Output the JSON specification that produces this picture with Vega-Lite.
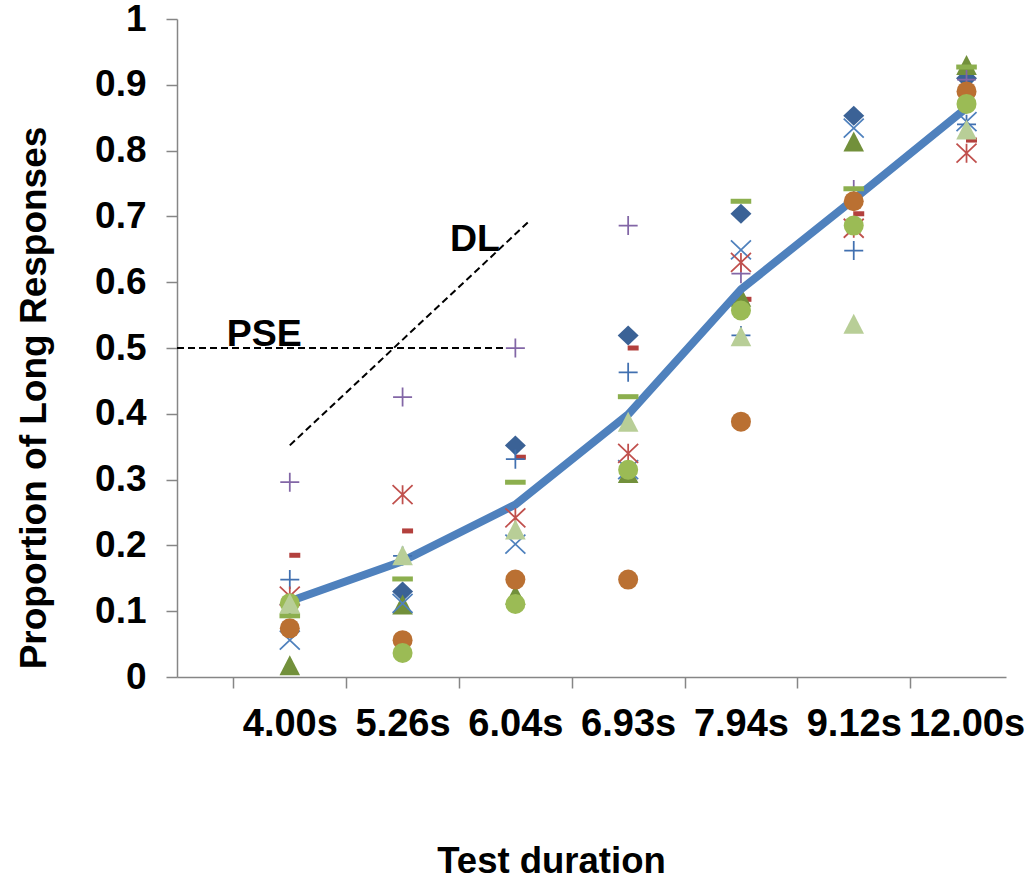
{
  "$schema": "https://vega.github.io/schema/vega-lite/v6.json",
  "width": 829,
  "height": 658,
  "autosize": {"type": "none"},
  "padding": {"left": 177, "top": 19, "right": 22, "bottom": 202},
  "background": "white",
  "config": {"view": {"stroke": null}, "font": "Liberation Sans"},
  "datasets": {
    "obs": [
      {"t":"4.00s","i":1,"s":"S1","p":0.11},{"t":"5.26s","i":2,"s":"S1","p":0.13},{"t":"6.04s","i":3,"s":"S1","p":0.352},{"t":"6.93s","i":4,"s":"S1","p":0.519},{"t":"7.94s","i":5,"s":"S1","p":0.704},{"t":"9.12s","i":6,"s":"S1","p":0.853},{"t":"12.00s","i":7,"s":"S1","p":0.91},
      {"t":"4.00s","i":1,"s":"S2","p":0.185},{"t":"5.26s","i":2,"s":"S2","p":0.222},{"t":"6.04s","i":3,"s":"S2","p":0.334},{"t":"6.93s","i":4,"s":"S2","p":0.5},{"t":"7.94s","i":5,"s":"S2","p":0.574},{"t":"9.12s","i":6,"s":"S2","p":0.704},{"t":"12.00s","i":7,"s":"S2","p":0.816},
      {"t":"4.00s","i":1,"s":"S3","p":0.018},{"t":"5.26s","i":2,"s":"S3","p":0.11},{"t":"6.04s","i":3,"s":"S3","p":0.125},{"t":"6.93s","i":4,"s":"S3","p":0.31},{"t":"7.94s","i":5,"s":"S3","p":0.578},{"t":"9.12s","i":6,"s":"S3","p":0.814},{"t":"12.00s","i":7,"s":"S3","p":0.93},
      {"t":"4.00s","i":1,"s":"S4","p":0.056},{"t":"5.26s","i":2,"s":"S4","p":0.112},{"t":"6.04s","i":3,"s":"S4","p":0.202},{"t":"6.93s","i":4,"s":"S4","p":0.315},{"t":"7.94s","i":5,"s":"S4","p":0.649},{"t":"9.12s","i":6,"s":"S4","p":0.834},{"t":"12.00s","i":7,"s":"S4","p":0.844},
      {"t":"4.00s","i":1,"s":"S5","p":0.296},{"t":"5.26s","i":2,"s":"S5","p":0.4255},{"t":"6.04s","i":3,"s":"S5","p":0.5},{"t":"6.93s","i":4,"s":"S5","p":0.686},{"t":"7.94s","i":5,"s":"S5","p":0.613},{"t":"9.12s","i":6,"s":"S5","p":0.741},{"t":"12.00s","i":7,"s":"S5","p":0.908},
      {"t":"4.00s","i":1,"s":"S6","p":0.074},{"t":"5.26s","i":2,"s":"S6","p":0.056},{"t":"6.04s","i":3,"s":"S6","p":0.148},{"t":"6.93s","i":4,"s":"S6","p":0.148},{"t":"7.94s","i":5,"s":"S6","p":0.388},{"t":"9.12s","i":6,"s":"S6","p":0.723},{"t":"12.00s","i":7,"s":"S6","p":0.89},
      {"t":"4.00s","i":1,"s":"S7","p":0.148},{"t":"5.26s","i":2,"s":"S7","p":0.184},{"t":"6.04s","i":3,"s":"S7","p":0.331},{"t":"6.93s","i":4,"s":"S7","p":0.463},{"t":"7.94s","i":5,"s":"S7","p":0.519},{"t":"9.12s","i":6,"s":"S7","p":0.648},{"t":"12.00s","i":7,"s":"S7","p":0.84},
      {"t":"4.00s","i":1,"s":"S8","p":0.093},{"t":"5.26s","i":2,"s":"S8","p":0.149},{"t":"6.04s","i":3,"s":"S8","p":0.296},{"t":"6.93s","i":4,"s":"S8","p":0.426},{"t":"7.94s","i":5,"s":"S8","p":0.723},{"t":"9.12s","i":6,"s":"S8","p":0.742},{"t":"12.00s","i":7,"s":"S8","p":0.927},
      {"t":"4.00s","i":1,"s":"S9","p":0.123},{"t":"5.26s","i":2,"s":"S9","p":0.277},{"t":"6.04s","i":3,"s":"S9","p":0.242},{"t":"6.93s","i":4,"s":"S9","p":0.34},{"t":"7.94s","i":5,"s":"S9","p":0.63},{"t":"9.12s","i":6,"s":"S9","p":0.682},{"t":"12.00s","i":7,"s":"S9","p":0.796},
      {"t":"4.00s","i":1,"s":"S10","p":0.112},{"t":"5.26s","i":2,"s":"S10","p":0.0365},{"t":"6.04s","i":3,"s":"S10","p":0.111},{"t":"6.93s","i":4,"s":"S10","p":0.315},{"t":"7.94s","i":5,"s":"S10","p":0.557},{"t":"9.12s","i":6,"s":"S10","p":0.686},{"t":"12.00s","i":7,"s":"S10","p":0.871},
      {"t":"4.00s","i":1,"s":"S11","p":0.112},{"t":"5.26s","i":2,"s":"S11","p":0.185},{"t":"6.04s","i":3,"s":"S11","p":0.224},{"t":"6.93s","i":4,"s":"S11","p":0.388},{"t":"7.94s","i":5,"s":"S11","p":0.518},{"t":"9.12s","i":6,"s":"S11","p":0.537},{"t":"12.00s","i":7,"s":"S11","p":0.832}
    ],
    "mean": [
      {"t":"4.00s","i":1,"p":0.115},{"t":"5.26s","i":2,"p":0.176},{"t":"6.04s","i":3,"p":0.262},{"t":"6.93s","i":4,"p":0.399},{"t":"7.94s","i":5,"p":0.589},{"t":"9.12s","i":6,"p":0.726},{"t":"12.00s","i":7,"p":0.865}
    ],
    "guides": [
      {"name":"PSE","i":0,"i2":2.926,"p":0.5,"p2":0.5},
      {"name":"DL","i":1,"i2":3.118,"p":0.352,"p2":0.692}
    ],
    "notes": [
      {"label":"PSE","i":0.44,"p":0.5024},
      {"label":"DL","i":2.42,"p":0.6468}
    ]
  },
  "encoding": {
    "x": {
      "field": "i", "type": "quantitative",
      "scale": {"domain": [0, 7.35], "nice": false, "zero": false},
      "axis": {
        "values": [1, 2, 3, 4, 5, 6, 7],
        "labelExpr": "['','4.00s','5.26s','6.04s','6.93s','7.94s','9.12s','12.00s'][datum.value]",
        "tickOffset": -56.4, "labelOffset": 56.4,
        "tickSize": 11, "tickWidth": 1.5, "tickColor": "#868686",
        "domainColor": "#868686", "domainWidth": 1.5, "grid": false,
        "labelFont": "Liberation Sans", "labelFontSize": 38, "labelFontWeight": "bold", "labelColor": "#000000",
        "labelBaseline": "alphabetic", "labelPadding": 47, "labelFlush": false, "labelOverlap": false,
        "title": "Test duration", "titleFont": "Liberation Sans", "titleFontSize": 36.5, "titleFontWeight": "bold", "titleColor": "#000000",
        "titleX": 374, "titleY": 195, "titleBaseline": "alphabetic", "titleAlign": "center"
      }
    },
    "y": {
      "field": "p", "type": "quantitative",
      "scale": {"domain": [0, 1], "nice": false, "zero": false},
      "axis": {
        "values": [0, 0.1, 0.2, 0.3, 0.4, 0.5, 0.6, 0.7, 0.8, 0.9, 1],
        "format": ".1~f",
        "tickSize": 11, "tickWidth": 1.5, "tickColor": "#868686",
        "domainColor": "#868686", "domainWidth": 1.5, "grid": false,
        "labelFont": "Liberation Sans", "labelFontSize": 37, "labelFontWeight": "bold", "labelColor": "#000000",
        "labelPadding": 20, "labelOverlap": false, "labelFlush": false,
        "title": "Proportion of Long Responses", "titleFont": "Liberation Sans", "titleFontSize": 37, "titleFontWeight": "bold", "titleColor": "#000000",
        "titleX": -132, "titleY": 378.5, "titleAngle": -90, "titleBaseline": "alphabetic", "titleAlign": "center"
      }
    }
  },
  "layer": [
    {
      "data": {"name": "guides"},
      "mark": {"type": "rule", "color": "#000000", "strokeWidth": 2, "strokeDash": [7, 4]},
      "encoding": {"x2": {"field": "i2"}, "y2": {"field": "p2"}}
    },
    {
      "data": {"name": "notes"},
      "mark": {"type": "text", "align": "left", "baseline": "alphabetic", "font": "Liberation Sans", "fontSize": 37.5, "fontWeight": "bold", "color": "#000000"},
      "encoding": {"text": {"field": "label"}}
    },
    {
      "data": {"name": "obs"},
      "transform": [{"filter": "indexof(['S1','S2','S3'], datum.s) >= 0"}],
      "mark": {"type": "point", "size": 100, "strokeWidth": 1.75, "strokeJoin": "round", "opacity": 1},
      "encoding": {
        "shape": {"field": "s", "type": "nominal", "legend": null, "scale": {"domain": ["S1","S2","S3","S4","S5","S6","S7","S8","S9","S10","S11"], "range": ["M0,-1L1.05,0L0,1L-1.05,0Z", "M-0.05,-0.25H1.05V0.25H-0.05Z", "M0,-1L1.03,1L-1.03,1Z", "M-1,-0.95L1,0.95M-1,0.95L1,-0.95", "M-0.95,0H0.95M0,-0.95V0.95", "circle", "M-0.95,0H0.95M0,-0.95V0.95", "M-1.03,-0.25H1.03V0.25H-1.03Z", "M-1,-0.95L1,0.95M-1,0.95L1,-0.95M0,-0.95V0.95", "circle", "M0,-1L1.03,1L-1.03,1Z"]}},
        "fill": {"field": "s", "type": "nominal", "legend": null, "scale": {"domain": ["S1","S2","S3","S4","S5","S6","S7","S8","S9","S10","S11"], "range": ["#3B6296", "#B3403D", "#72903B", "transparent", "transparent", "#BA7032", "transparent", "#8CAF4E", "transparent", "#9BBB55", "#B8CE97"]}},
        "stroke": {"field": "s", "type": "nominal", "legend": null, "scale": {"domain": ["S1","S2","S3","S4","S5","S6","S7","S8","S9","S10","S11"], "range": ["transparent", "transparent", "transparent", "#4F81BD", "#8266A6", "transparent", "#4170B0", "transparent", "#C0504D", "transparent", "transparent"]}},
        "size": {"value": 400}
      }
    },
    {
      "data": {"name": "mean"},
      "mark": {"type": "line", "color": "#4F81BD", "strokeWidth": 8, "strokeJoin": "round", "strokeCap": "butt"},
      "encoding": {}
    },
    {
      "data": {"name": "obs"},
      "transform": [{"filter": "indexof(['S1','S2','S3'], datum.s) < 0"}],
      "mark": {"type": "point", "size": 100, "strokeWidth": 1.75, "strokeJoin": "round", "opacity": 1},
      "encoding": {
        "shape": {"field": "s", "type": "nominal", "legend": null},
        "fill": {"field": "s", "type": "nominal", "legend": null},
        "stroke": {"field": "s", "type": "nominal", "legend": null},
        "size": {"value": 400}
      }
    }
  ]
}
